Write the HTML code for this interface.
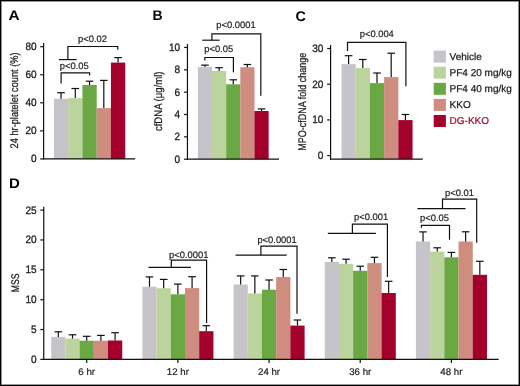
<!DOCTYPE html>
<html><head><meta charset="utf-8"><style>
html,body{margin:0;padding:0;background:#fff;}
.wrap{position:relative;width:520px;height:386px;overflow:hidden;background:#fff;}
.frame{position:absolute;left:0;top:0;width:520px;height:386px;box-sizing:border-box;border:1px solid #000;box-shadow:inset 0 0 0 0.8px rgba(0,0,0,0.55);}
svg{position:absolute;left:0;top:0;will-change:transform;}
text{font-family:"Liberation Sans",sans-serif;text-rendering:geometricPrecision;}
</style></head><body><div class="wrap">
<svg width="520" height="386" viewBox="0 0 520 386">
<text transform="translate(8.40,20.40) scale(1.1,1)" font-size="14" text-anchor="start" fill="#000" font-weight="bold" >A</text>
<rect x="53.90" y="98.80" width="14.31" height="60.10" fill="#C6C4C9"/>
<rect x="68.16" y="98.10" width="14.31" height="60.80" fill="#BBD49E"/>
<rect x="82.42" y="85.00" width="14.31" height="73.90" fill="#6AA844"/>
<rect x="96.68" y="108.10" width="14.31" height="50.80" fill="#CF8D80"/>
<rect x="110.94" y="62.60" width="14.31" height="96.30" fill="#A3002B"/>
<line x1="61.03" y1="98.80" x2="61.03" y2="92.70" stroke="#111" stroke-width="1.2"/>
<line x1="57.23" y1="92.70" x2="64.83" y2="92.70" stroke="#111" stroke-width="1.2"/>
<line x1="75.29" y1="98.10" x2="75.29" y2="88.50" stroke="#111" stroke-width="1.2"/>
<line x1="71.49" y1="88.50" x2="79.09" y2="88.50" stroke="#111" stroke-width="1.2"/>
<line x1="89.55" y1="85.00" x2="89.55" y2="81.20" stroke="#111" stroke-width="1.2"/>
<line x1="85.75" y1="81.20" x2="93.35" y2="81.20" stroke="#111" stroke-width="1.2"/>
<line x1="103.81" y1="108.10" x2="103.81" y2="80.40" stroke="#111" stroke-width="1.2"/>
<line x1="100.01" y1="80.40" x2="107.61" y2="80.40" stroke="#111" stroke-width="1.2"/>
<line x1="118.07" y1="62.60" x2="118.07" y2="57.60" stroke="#111" stroke-width="1.2"/>
<line x1="114.27" y1="57.60" x2="121.87" y2="57.60" stroke="#111" stroke-width="1.2"/>
<line x1="43.60" y1="43.00" x2="43.60" y2="159.50" stroke="#111" stroke-width="1.2"/>
<line x1="40.20" y1="46.70" x2="43.60" y2="46.70" stroke="#111" stroke-width="1.2"/>
<text transform="translate(36.60,50.10) scale(0.93,1)" font-size="10.8" text-anchor="end" fill="#1c1c1c" font-weight="normal" stroke="#1c1c1c" stroke-width="0.3">80</text>
<line x1="40.20" y1="74.75" x2="43.60" y2="74.75" stroke="#111" stroke-width="1.2"/>
<text transform="translate(36.60,78.15) scale(0.93,1)" font-size="10.8" text-anchor="end" fill="#1c1c1c" font-weight="normal" stroke="#1c1c1c" stroke-width="0.3">60</text>
<line x1="40.20" y1="102.80" x2="43.60" y2="102.80" stroke="#111" stroke-width="1.2"/>
<text transform="translate(36.60,106.20) scale(0.93,1)" font-size="10.8" text-anchor="end" fill="#1c1c1c" font-weight="normal" stroke="#1c1c1c" stroke-width="0.3">40</text>
<line x1="40.20" y1="130.85" x2="43.60" y2="130.85" stroke="#111" stroke-width="1.2"/>
<text transform="translate(36.60,134.25) scale(0.93,1)" font-size="10.8" text-anchor="end" fill="#1c1c1c" font-weight="normal" stroke="#1c1c1c" stroke-width="0.3">20</text>
<line x1="40.20" y1="158.90" x2="43.60" y2="158.90" stroke="#111" stroke-width="1.2"/>
<text transform="translate(36.60,162.30) scale(0.93,1)" font-size="10.8" text-anchor="end" fill="#1c1c1c" font-weight="normal" stroke="#1c1c1c" stroke-width="0.3">0</text>
<line x1="43.00" y1="158.90" x2="135.20" y2="158.90" stroke="#111" stroke-width="1.2"/>
<text transform="translate(18.20,100.40) rotate(-90)" font-size="11.1" text-anchor="middle" fill="#1c1c1c" stroke="#1c1c1c" stroke-width="0.25" textLength="96" lengthAdjust="spacingAndGlyphs">24 hr-platelet count (%)</text>
<polyline points="61.10,83.50 61.10,72.80 89.60,72.80 89.60,75.60" fill="none" stroke="#111" stroke-width="1.2"/>
<text x="59.80" y="69.30" font-size="9.4" text-anchor="start" fill="#1c1c1c" font-weight="normal" stroke="#1c1c1c" stroke-width="0.2">p&lt;0.05</text>
<line x1="59.00" y1="59.60" x2="76.60" y2="59.60" stroke="#111" stroke-width="1.2"/>
<polyline points="67.90,59.60 67.90,46.50 117.80,46.50 117.80,49.70" fill="none" stroke="#111" stroke-width="1.2"/>
<text x="78.10" y="41.90" font-size="9.4" text-anchor="start" fill="#1c1c1c" font-weight="normal" stroke="#1c1c1c" stroke-width="0.2">p&lt;0.02</text>
<text x="152.40" y="20.20" font-size="14" text-anchor="start" fill="#000" font-weight="bold" >B</text>
<rect x="197.90" y="67.10" width="14.19" height="92.10" fill="#C6C4C9"/>
<rect x="212.04" y="71.00" width="14.19" height="88.20" fill="#BBD49E"/>
<rect x="226.18" y="84.30" width="14.19" height="74.90" fill="#6AA844"/>
<rect x="240.32" y="67.20" width="14.19" height="92.00" fill="#CF8D80"/>
<rect x="254.46" y="111.00" width="14.19" height="48.20" fill="#A3002B"/>
<line x1="204.97" y1="67.10" x2="204.97" y2="65.10" stroke="#111" stroke-width="1.2"/>
<line x1="201.17" y1="65.10" x2="208.77" y2="65.10" stroke="#111" stroke-width="1.2"/>
<line x1="219.11" y1="71.00" x2="219.11" y2="67.70" stroke="#111" stroke-width="1.2"/>
<line x1="215.31" y1="67.70" x2="222.91" y2="67.70" stroke="#111" stroke-width="1.2"/>
<line x1="233.25" y1="84.30" x2="233.25" y2="79.80" stroke="#111" stroke-width="1.2"/>
<line x1="229.45" y1="79.80" x2="237.05" y2="79.80" stroke="#111" stroke-width="1.2"/>
<line x1="247.39" y1="67.20" x2="247.39" y2="64.50" stroke="#111" stroke-width="1.2"/>
<line x1="243.59" y1="64.50" x2="251.19" y2="64.50" stroke="#111" stroke-width="1.2"/>
<line x1="261.53" y1="111.00" x2="261.53" y2="108.90" stroke="#111" stroke-width="1.2"/>
<line x1="257.73" y1="108.90" x2="265.33" y2="108.90" stroke="#111" stroke-width="1.2"/>
<line x1="187.45" y1="44.00" x2="187.45" y2="159.80" stroke="#111" stroke-width="1.2"/>
<line x1="184.05" y1="47.45" x2="187.45" y2="47.45" stroke="#111" stroke-width="1.2"/>
<text transform="translate(180.20,50.85) scale(0.93,1)" font-size="10.8" text-anchor="end" fill="#1c1c1c" font-weight="normal" stroke="#1c1c1c" stroke-width="0.3">10</text>
<line x1="184.05" y1="69.80" x2="187.45" y2="69.80" stroke="#111" stroke-width="1.2"/>
<text transform="translate(180.20,73.20) scale(0.93,1)" font-size="10.8" text-anchor="end" fill="#1c1c1c" font-weight="normal" stroke="#1c1c1c" stroke-width="0.3">8</text>
<line x1="184.05" y1="92.15" x2="187.45" y2="92.15" stroke="#111" stroke-width="1.2"/>
<text transform="translate(180.20,95.55) scale(0.93,1)" font-size="10.8" text-anchor="end" fill="#1c1c1c" font-weight="normal" stroke="#1c1c1c" stroke-width="0.3">6</text>
<line x1="184.05" y1="114.50" x2="187.45" y2="114.50" stroke="#111" stroke-width="1.2"/>
<text transform="translate(180.20,117.90) scale(0.93,1)" font-size="10.8" text-anchor="end" fill="#1c1c1c" font-weight="normal" stroke="#1c1c1c" stroke-width="0.3">4</text>
<line x1="184.05" y1="136.85" x2="187.45" y2="136.85" stroke="#111" stroke-width="1.2"/>
<text transform="translate(180.20,140.25) scale(0.93,1)" font-size="10.8" text-anchor="end" fill="#1c1c1c" font-weight="normal" stroke="#1c1c1c" stroke-width="0.3">2</text>
<line x1="184.05" y1="159.20" x2="187.45" y2="159.20" stroke="#111" stroke-width="1.2"/>
<text transform="translate(180.20,162.60) scale(0.93,1)" font-size="10.8" text-anchor="end" fill="#1c1c1c" font-weight="normal" stroke="#1c1c1c" stroke-width="0.3">0</text>
<line x1="186.85" y1="159.20" x2="279.00" y2="159.20" stroke="#111" stroke-width="1.2"/>
<text transform="translate(162.30,101.30) rotate(-90)" font-size="11.1" text-anchor="middle" fill="#1c1c1c" stroke="#1c1c1c" stroke-width="0.25" textLength="59.5" lengthAdjust="spacingAndGlyphs">cfDNA (μg/ml)</text>
<polyline points="204.90,60.60 204.90,57.50 233.40,57.50 233.40,72.20" fill="none" stroke="#111" stroke-width="1.2"/>
<text x="204.20" y="52.20" font-size="9.4" text-anchor="start" fill="#1c1c1c" font-weight="normal" stroke="#1c1c1c" stroke-width="0.2">p&lt;0.05</text>
<line x1="202.30" y1="40.20" x2="219.60" y2="40.20" stroke="#111" stroke-width="1.2"/>
<polyline points="211.90,40.20 211.90,33.80 260.80,33.80 260.80,95.70" fill="none" stroke="#111" stroke-width="1.2"/>
<text x="216.30" y="28.30" font-size="9.4" text-anchor="start" fill="#1c1c1c" font-weight="normal" stroke="#1c1c1c" stroke-width="0.2">p&lt;0.0001</text>
<text transform="translate(295.50,20.80) scale(1.03,1)" font-size="14" text-anchor="start" fill="#000" font-weight="bold" >C</text>
<rect x="341.50" y="64.10" width="14.25" height="95.00" fill="#C6C4C9"/>
<rect x="355.70" y="68.10" width="14.25" height="91.00" fill="#BBD49E"/>
<rect x="369.90" y="83.10" width="14.25" height="76.00" fill="#6AA844"/>
<rect x="384.10" y="77.10" width="14.25" height="82.00" fill="#CF8D80"/>
<rect x="398.30" y="120.10" width="14.25" height="39.00" fill="#A3002B"/>
<line x1="348.60" y1="64.10" x2="348.60" y2="55.70" stroke="#111" stroke-width="1.2"/>
<line x1="344.80" y1="55.70" x2="352.40" y2="55.70" stroke="#111" stroke-width="1.2"/>
<line x1="362.80" y1="68.10" x2="362.80" y2="59.50" stroke="#111" stroke-width="1.2"/>
<line x1="359.00" y1="59.50" x2="366.60" y2="59.50" stroke="#111" stroke-width="1.2"/>
<line x1="377.00" y1="83.10" x2="377.00" y2="73.00" stroke="#111" stroke-width="1.2"/>
<line x1="373.20" y1="73.00" x2="380.80" y2="73.00" stroke="#111" stroke-width="1.2"/>
<line x1="391.20" y1="77.10" x2="391.20" y2="53.20" stroke="#111" stroke-width="1.2"/>
<line x1="387.40" y1="53.20" x2="395.00" y2="53.20" stroke="#111" stroke-width="1.2"/>
<line x1="405.40" y1="120.10" x2="405.40" y2="114.50" stroke="#111" stroke-width="1.2"/>
<line x1="401.60" y1="114.50" x2="409.20" y2="114.50" stroke="#111" stroke-width="1.2"/>
<line x1="330.60" y1="45.00" x2="330.60" y2="159.70" stroke="#111" stroke-width="1.2"/>
<line x1="327.20" y1="48.50" x2="330.60" y2="48.50" stroke="#111" stroke-width="1.2"/>
<text transform="translate(323.30,51.90) scale(0.93,1)" font-size="10.8" text-anchor="end" fill="#1c1c1c" font-weight="normal" stroke="#1c1c1c" stroke-width="0.3">30</text>
<line x1="327.20" y1="84.20" x2="330.60" y2="84.20" stroke="#111" stroke-width="1.2"/>
<text transform="translate(323.30,87.60) scale(0.93,1)" font-size="10.8" text-anchor="end" fill="#1c1c1c" font-weight="normal" stroke="#1c1c1c" stroke-width="0.3">20</text>
<line x1="327.20" y1="119.90" x2="330.60" y2="119.90" stroke="#111" stroke-width="1.2"/>
<text transform="translate(323.30,123.30) scale(0.93,1)" font-size="10.8" text-anchor="end" fill="#1c1c1c" font-weight="normal" stroke="#1c1c1c" stroke-width="0.3">10</text>
<line x1="327.20" y1="155.60" x2="330.60" y2="155.60" stroke="#111" stroke-width="1.2"/>
<text transform="translate(323.30,159.00) scale(0.93,1)" font-size="10.8" text-anchor="end" fill="#1c1c1c" font-weight="normal" stroke="#1c1c1c" stroke-width="0.3">0</text>
<line x1="330.00" y1="159.10" x2="422.80" y2="159.10" stroke="#111" stroke-width="1.2"/>
<text transform="translate(305.60,101.80) rotate(-90)" font-size="11.1" text-anchor="middle" fill="#1c1c1c" stroke="#1c1c1c" stroke-width="0.25" textLength="98" lengthAdjust="spacingAndGlyphs">MPO-cfDNA fold change</text>
<polyline points="347.50,51.00 347.50,42.30 405.90,42.30 405.90,86.20" fill="none" stroke="#111" stroke-width="1.2"/>
<text x="359.70" y="36.50" font-size="9.4" text-anchor="start" fill="#1c1c1c" font-weight="normal" stroke="#1c1c1c" stroke-width="0.2">p&lt;0.004</text>
<rect x="433.70" y="50.60" width="12.20" height="12.00" fill="#C6C4C9"/>
<text x="449.60" y="59.80" font-size="10" text-anchor="start" fill="#1c1c1c" font-weight="normal" stroke="#1c1c1c" stroke-width="0.25">Vehicle</text>
<rect x="433.70" y="66.70" width="12.20" height="12.00" fill="#BBD49E"/>
<text x="449.60" y="75.90" font-size="10" text-anchor="start" fill="#1c1c1c" font-weight="normal" stroke="#1c1c1c" stroke-width="0.25">PF4 20 mg/kg</text>
<rect x="433.70" y="82.80" width="12.20" height="12.00" fill="#6AA844"/>
<text x="449.60" y="92.00" font-size="10" text-anchor="start" fill="#1c1c1c" font-weight="normal" stroke="#1c1c1c" stroke-width="0.25">PF4 40 mg/kg</text>
<rect x="433.70" y="98.90" width="12.20" height="12.00" fill="#CF8D80"/>
<text x="449.60" y="108.10" font-size="10" text-anchor="start" fill="#1c1c1c" font-weight="normal" stroke="#1c1c1c" stroke-width="0.25">KKO</text>
<rect x="433.70" y="115.00" width="12.20" height="12.00" fill="#A3002B"/>
<text x="449.60" y="124.20" font-size="10" text-anchor="start" fill="#A3002B" font-weight="normal" stroke="#A3002B" stroke-width="0.2">DG-KKO</text>
<text transform="translate(8.90,187.60) scale(1.07,1)" font-size="14" text-anchor="start" fill="#000" font-weight="bold" >D</text>
<text transform="translate(18.50,282.80) rotate(-90)" font-size="11.1" text-anchor="middle" fill="#1c1c1c" stroke="#1c1c1c" stroke-width="0.25" textLength="18.8" lengthAdjust="spacingAndGlyphs">MSS</text>
<rect x="51.20" y="336.90" width="14.25" height="22.50" fill="#C6C4C9"/>
<rect x="65.40" y="338.60" width="14.25" height="20.80" fill="#BBD49E"/>
<rect x="79.60" y="340.70" width="14.25" height="18.70" fill="#6AA844"/>
<rect x="93.80" y="340.70" width="14.25" height="18.70" fill="#CF8D80"/>
<rect x="108.00" y="340.50" width="14.25" height="18.90" fill="#A3002B"/>
<line x1="58.30" y1="336.90" x2="58.30" y2="331.80" stroke="#111" stroke-width="1.2"/>
<line x1="54.50" y1="331.80" x2="62.10" y2="331.80" stroke="#111" stroke-width="1.2"/>
<line x1="72.50" y1="338.60" x2="72.50" y2="334.80" stroke="#111" stroke-width="1.2"/>
<line x1="68.70" y1="334.80" x2="76.30" y2="334.80" stroke="#111" stroke-width="1.2"/>
<line x1="86.70" y1="340.70" x2="86.70" y2="336.30" stroke="#111" stroke-width="1.2"/>
<line x1="82.90" y1="336.30" x2="90.50" y2="336.30" stroke="#111" stroke-width="1.2"/>
<line x1="100.90" y1="340.70" x2="100.90" y2="335.40" stroke="#111" stroke-width="1.2"/>
<line x1="97.10" y1="335.40" x2="104.70" y2="335.40" stroke="#111" stroke-width="1.2"/>
<line x1="115.10" y1="340.50" x2="115.10" y2="332.70" stroke="#111" stroke-width="1.2"/>
<line x1="111.30" y1="332.70" x2="118.90" y2="332.70" stroke="#111" stroke-width="1.2"/>
<line x1="86.70" y1="359.40" x2="86.70" y2="363.00" stroke="#111" stroke-width="1.2"/>
<text x="86.70" y="375.40" font-size="9.7" text-anchor="middle" fill="#1c1c1c" font-weight="normal" stroke="#1c1c1c" stroke-width="0.2">6 hr</text>
<rect x="142.38" y="286.80" width="14.25" height="72.60" fill="#C6C4C9"/>
<rect x="156.58" y="288.30" width="14.25" height="71.10" fill="#BBD49E"/>
<rect x="170.78" y="294.30" width="14.25" height="65.10" fill="#6AA844"/>
<rect x="184.98" y="288.10" width="14.25" height="71.30" fill="#CF8D80"/>
<rect x="199.18" y="331.20" width="14.25" height="28.20" fill="#A3002B"/>
<line x1="149.48" y1="286.80" x2="149.48" y2="276.90" stroke="#111" stroke-width="1.2"/>
<line x1="145.68" y1="276.90" x2="153.28" y2="276.90" stroke="#111" stroke-width="1.2"/>
<line x1="163.68" y1="288.30" x2="163.68" y2="279.40" stroke="#111" stroke-width="1.2"/>
<line x1="159.88" y1="279.40" x2="167.48" y2="279.40" stroke="#111" stroke-width="1.2"/>
<line x1="177.88" y1="294.30" x2="177.88" y2="284.10" stroke="#111" stroke-width="1.2"/>
<line x1="174.08" y1="284.10" x2="181.68" y2="284.10" stroke="#111" stroke-width="1.2"/>
<line x1="192.08" y1="288.10" x2="192.08" y2="276.70" stroke="#111" stroke-width="1.2"/>
<line x1="188.28" y1="276.70" x2="195.88" y2="276.70" stroke="#111" stroke-width="1.2"/>
<line x1="206.28" y1="331.20" x2="206.28" y2="325.70" stroke="#111" stroke-width="1.2"/>
<line x1="202.48" y1="325.70" x2="210.08" y2="325.70" stroke="#111" stroke-width="1.2"/>
<line x1="177.88" y1="359.40" x2="177.88" y2="363.00" stroke="#111" stroke-width="1.2"/>
<text x="177.88" y="375.40" font-size="9.7" text-anchor="middle" fill="#1c1c1c" font-weight="normal" stroke="#1c1c1c" stroke-width="0.2">12 hr</text>
<rect x="233.56" y="284.50" width="14.25" height="74.90" fill="#C6C4C9"/>
<rect x="247.76" y="293.50" width="14.25" height="65.90" fill="#BBD49E"/>
<rect x="261.96" y="289.70" width="14.25" height="69.70" fill="#6AA844"/>
<rect x="276.16" y="277.00" width="14.25" height="82.40" fill="#CF8D80"/>
<rect x="290.36" y="325.60" width="14.25" height="33.80" fill="#A3002B"/>
<line x1="240.66" y1="284.50" x2="240.66" y2="275.90" stroke="#111" stroke-width="1.2"/>
<line x1="236.86" y1="275.90" x2="244.46" y2="275.90" stroke="#111" stroke-width="1.2"/>
<line x1="254.86" y1="293.50" x2="254.86" y2="275.90" stroke="#111" stroke-width="1.2"/>
<line x1="251.06" y1="275.90" x2="258.66" y2="275.90" stroke="#111" stroke-width="1.2"/>
<line x1="269.06" y1="289.70" x2="269.06" y2="280.00" stroke="#111" stroke-width="1.2"/>
<line x1="265.26" y1="280.00" x2="272.86" y2="280.00" stroke="#111" stroke-width="1.2"/>
<line x1="283.26" y1="277.00" x2="283.26" y2="269.50" stroke="#111" stroke-width="1.2"/>
<line x1="279.46" y1="269.50" x2="287.06" y2="269.50" stroke="#111" stroke-width="1.2"/>
<line x1="297.46" y1="325.60" x2="297.46" y2="320.00" stroke="#111" stroke-width="1.2"/>
<line x1="293.66" y1="320.00" x2="301.26" y2="320.00" stroke="#111" stroke-width="1.2"/>
<line x1="269.06" y1="359.40" x2="269.06" y2="363.00" stroke="#111" stroke-width="1.2"/>
<text x="269.06" y="375.40" font-size="9.7" text-anchor="middle" fill="#1c1c1c" font-weight="normal" stroke="#1c1c1c" stroke-width="0.2">24 hr</text>
<rect x="324.74" y="262.00" width="14.25" height="97.40" fill="#C6C4C9"/>
<rect x="338.94" y="263.80" width="14.25" height="95.60" fill="#BBD49E"/>
<rect x="353.14" y="270.80" width="14.25" height="88.60" fill="#6AA844"/>
<rect x="367.34" y="263.10" width="14.25" height="96.30" fill="#CF8D80"/>
<rect x="381.54" y="293.00" width="14.25" height="66.40" fill="#A3002B"/>
<line x1="331.84" y1="262.00" x2="331.84" y2="257.80" stroke="#111" stroke-width="1.2"/>
<line x1="328.04" y1="257.80" x2="335.64" y2="257.80" stroke="#111" stroke-width="1.2"/>
<line x1="346.04" y1="263.80" x2="346.04" y2="259.20" stroke="#111" stroke-width="1.2"/>
<line x1="342.24" y1="259.20" x2="349.84" y2="259.20" stroke="#111" stroke-width="1.2"/>
<line x1="360.24" y1="270.80" x2="360.24" y2="266.20" stroke="#111" stroke-width="1.2"/>
<line x1="356.44" y1="266.20" x2="364.04" y2="266.20" stroke="#111" stroke-width="1.2"/>
<line x1="374.44" y1="263.10" x2="374.44" y2="257.30" stroke="#111" stroke-width="1.2"/>
<line x1="370.64" y1="257.30" x2="378.24" y2="257.30" stroke="#111" stroke-width="1.2"/>
<line x1="388.64" y1="293.00" x2="388.64" y2="281.30" stroke="#111" stroke-width="1.2"/>
<line x1="384.84" y1="281.30" x2="392.44" y2="281.30" stroke="#111" stroke-width="1.2"/>
<line x1="360.24" y1="359.40" x2="360.24" y2="363.00" stroke="#111" stroke-width="1.2"/>
<text x="360.24" y="375.40" font-size="9.7" text-anchor="middle" fill="#1c1c1c" font-weight="normal" stroke="#1c1c1c" stroke-width="0.2">36 hr</text>
<rect x="415.92" y="241.50" width="14.25" height="117.90" fill="#C6C4C9"/>
<rect x="430.12" y="251.60" width="14.25" height="107.80" fill="#BBD49E"/>
<rect x="444.32" y="257.30" width="14.25" height="102.10" fill="#6AA844"/>
<rect x="458.52" y="241.50" width="14.25" height="117.90" fill="#CF8D80"/>
<rect x="472.72" y="274.80" width="14.25" height="84.60" fill="#A3002B"/>
<line x1="423.02" y1="241.50" x2="423.02" y2="231.90" stroke="#111" stroke-width="1.2"/>
<line x1="419.22" y1="231.90" x2="426.82" y2="231.90" stroke="#111" stroke-width="1.2"/>
<line x1="437.22" y1="251.60" x2="437.22" y2="247.80" stroke="#111" stroke-width="1.2"/>
<line x1="433.42" y1="247.80" x2="441.02" y2="247.80" stroke="#111" stroke-width="1.2"/>
<line x1="451.42" y1="257.30" x2="451.42" y2="252.40" stroke="#111" stroke-width="1.2"/>
<line x1="447.62" y1="252.40" x2="455.22" y2="252.40" stroke="#111" stroke-width="1.2"/>
<line x1="465.62" y1="241.50" x2="465.62" y2="231.80" stroke="#111" stroke-width="1.2"/>
<line x1="461.82" y1="231.80" x2="469.42" y2="231.80" stroke="#111" stroke-width="1.2"/>
<line x1="479.82" y1="274.80" x2="479.82" y2="261.30" stroke="#111" stroke-width="1.2"/>
<line x1="476.02" y1="261.30" x2="483.62" y2="261.30" stroke="#111" stroke-width="1.2"/>
<line x1="451.42" y1="359.40" x2="451.42" y2="363.00" stroke="#111" stroke-width="1.2"/>
<text x="451.42" y="375.40" font-size="9.7" text-anchor="middle" fill="#1c1c1c" font-weight="normal" stroke="#1c1c1c" stroke-width="0.2">48 hr</text>
<line x1="43.75" y1="206.70" x2="43.75" y2="360.00" stroke="#111" stroke-width="1.2"/>
<line x1="40.35" y1="210.10" x2="43.75" y2="210.10" stroke="#111" stroke-width="1.2"/>
<text transform="translate(36.60,213.50) scale(0.93,1)" font-size="10.8" text-anchor="end" fill="#1c1c1c" font-weight="normal" stroke="#1c1c1c" stroke-width="0.3">25</text>
<line x1="40.35" y1="239.96" x2="43.75" y2="239.96" stroke="#111" stroke-width="1.2"/>
<text transform="translate(36.60,243.36) scale(0.93,1)" font-size="10.8" text-anchor="end" fill="#1c1c1c" font-weight="normal" stroke="#1c1c1c" stroke-width="0.3">20</text>
<line x1="40.35" y1="269.82" x2="43.75" y2="269.82" stroke="#111" stroke-width="1.2"/>
<text transform="translate(36.60,273.22) scale(0.93,1)" font-size="10.8" text-anchor="end" fill="#1c1c1c" font-weight="normal" stroke="#1c1c1c" stroke-width="0.3">15</text>
<line x1="40.35" y1="299.68" x2="43.75" y2="299.68" stroke="#111" stroke-width="1.2"/>
<text transform="translate(36.60,303.08) scale(0.93,1)" font-size="10.8" text-anchor="end" fill="#1c1c1c" font-weight="normal" stroke="#1c1c1c" stroke-width="0.3">10</text>
<line x1="40.35" y1="329.54" x2="43.75" y2="329.54" stroke="#111" stroke-width="1.2"/>
<text transform="translate(36.60,332.94) scale(0.93,1)" font-size="10.8" text-anchor="end" fill="#1c1c1c" font-weight="normal" stroke="#1c1c1c" stroke-width="0.3">5</text>
<line x1="40.35" y1="359.40" x2="43.75" y2="359.40" stroke="#111" stroke-width="1.2"/>
<text transform="translate(36.60,362.80) scale(0.93,1)" font-size="10.8" text-anchor="end" fill="#1c1c1c" font-weight="normal" stroke="#1c1c1c" stroke-width="0.3">0</text>
<line x1="43.15" y1="359.40" x2="498.60" y2="359.40" stroke="#111" stroke-width="1.2"/>
<line x1="148.50" y1="267.40" x2="191.00" y2="267.40" stroke="#111" stroke-width="1.2"/>
<polyline points="171.30,267.40 171.30,260.10 206.60,260.10 206.60,323.00" fill="none" stroke="#111" stroke-width="1.2"/>
<text x="169.00" y="257.80" font-size="9.4" text-anchor="start" fill="#1c1c1c" font-weight="normal" stroke="#1c1c1c" stroke-width="0.2">p&lt;0.0001</text>
<line x1="235.60" y1="255.20" x2="286.70" y2="255.20" stroke="#111" stroke-width="1.2"/>
<polyline points="260.90,255.20 260.90,246.10 297.00,246.10 297.00,313.80" fill="none" stroke="#111" stroke-width="1.2"/>
<text x="257.40" y="243.00" font-size="9.4" text-anchor="start" fill="#1c1c1c" font-weight="normal" stroke="#1c1c1c" stroke-width="0.2">p&lt;0.0001</text>
<line x1="327.80" y1="233.40" x2="375.90" y2="233.40" stroke="#111" stroke-width="1.2"/>
<polyline points="352.40,233.40 352.40,224.20 387.40,224.20 387.40,277.00" fill="none" stroke="#111" stroke-width="1.2"/>
<text x="354.00" y="220.00" font-size="9.4" text-anchor="start" fill="#1c1c1c" font-weight="normal" stroke="#1c1c1c" stroke-width="0.2">p&lt;0.001</text>
<line x1="417.40" y1="208.70" x2="465.50" y2="208.70" stroke="#111" stroke-width="1.2"/>
<polyline points="442.50,208.70 442.50,199.20 476.70,199.20 476.70,242.80" fill="none" stroke="#111" stroke-width="1.2"/>
<text x="445.00" y="195.60" font-size="9.4" text-anchor="start" fill="#1c1c1c" font-weight="normal" stroke="#1c1c1c" stroke-width="0.2">p&lt;0.01</text>
<polyline points="421.40,227.80 421.40,225.40 449.50,225.40 449.50,239.70" fill="none" stroke="#111" stroke-width="1.2"/>
<text x="420.00" y="221.30" font-size="9.4" text-anchor="start" fill="#1c1c1c" font-weight="normal" stroke="#1c1c1c" stroke-width="0.2">p&lt;0.05</text>
</svg>
<div class="frame"></div>
</div></body></html>
